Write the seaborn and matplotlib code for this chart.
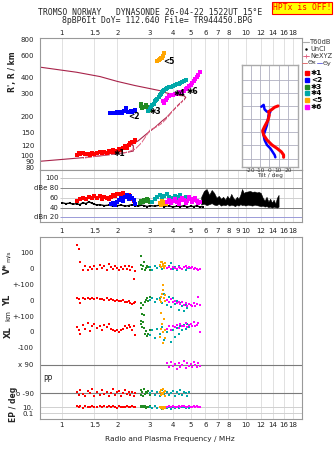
import numpy as np
import matplotlib
matplotlib.use("Agg")
import matplotlib.pyplot as plt
from matplotlib.lines import Line2D
from matplotlib.ticker import NullLocator
import seaborn as sns

# ---------------- data ----------------
freq_ticks = [1, 1.5, 2, 3, 4, 5, 6, 7, 8, 10, 12, 14, 16, 18]
freq_labels = ["1", "1.5", "2", "3", "4", "5", "6", "7", "8", "10", "12", "14", "16", "18"]
freq_ticks_mid = [1, 1.5, 2, 3, 4, 5, 6, 7, 8, 9, 10, 12, 14, 16, 18]
freq_labels_mid = ["1", "1.5", "2", "3", "4", "5", "6", "7", "8", "9", "10", "12", "14", "16", "18"]
height_ticks = [80, 90, 100, 120, 150, 200, 300, 400, 600, 800]

# virtual heights of echo traces (MHz, km)
red_f = [1.20,1.23,1.26,1.30,1.34,1.38,1.42,1.46,1.50,1.55,1.60,1.65,1.70,1.75,1.80,1.85,1.90,1.95,2.00,2.05,2.10,2.15,2.20,2.25,2.30,2.35,2.40,2.45,2.49]
red_h = [101,104,103,105,102,103,101,104,103,105,106,104,107,105,109,107,110,106,109,112,110,115,118,114,120,124,128,126,131]
blue_f = [1.82,1.86,1.90,1.95,2.00,2.04,2.08,2.12,2.16,2.20,2.24,2.28,2.32,2.36,2.40,2.45,2.49]
blue_h = [212,214,215,213,216,214,218,215,220,222,235,218,216,220,218,222,224]
green_f = [2.68,2.70,2.72,2.75,2.85,2.90,2.95,3.00]
green_h = [240,250,235,238,245,238,230,226]
cyan_f = [2.95,3.00,3.05,3.10,3.15,3.20,3.25,3.30,3.35,3.40,3.45,3.50,3.55,3.60,3.65,3.70,3.80,3.90,4.00,4.10,4.20,4.30,4.40,4.50,4.60,4.70]
cyan_h = [220,230,238,245,252,262,270,275,285,292,300,308,318,322,330,335,340,338,345,350,358,355,365,372,380,385]
orange_f = [3.30,3.35,3.40,3.45,3.50,3.55,3.60]
orange_h = [540,548,555,565,575,590,620]
mag_f = [3.55,3.60,3.65,3.70,3.80,3.90,4.00,4.10,4.20,4.30,4.40,4.50,4.60,4.70,4.80,4.90,5.00,5.10,5.20,5.30,5.40,5.50,5.60]
mag_h = [262,255,270,280,288,292,296,300,302,305,310,312,318,325,335,345,352,365,375,390,405,420,440]

# true-height / plasma frequency profile
prof_f = [0.76,1.0,1.3,1.6,2.0,2.2,2.44,2.44,2.38,2.6,2.9,3.2,3.5,3.71,4.0,4.3,4.6,4.7,4.6,4.3,4.0,3.7,3.4,3.0,2.5,2.0,1.61,1.2,0.76]
prof_h = [90,93,96,99,103,105,108,119,121,130,148,165,185,198,222,248,270,282,290,292,298,305,318,330,348,375,409,442,484]
ne_f = [1.31,1.45,1.82,2.25,2.5,2.7,2.85,3.0,3.27,3.48,3.71,3.95,4.17,4.38,4.56]
ne_h = [95,97.5,102,105.5,112,125,140,157,167,177,194,218,236,251,269]

# trace labels
lab_text = ["\u27311", "<2", "\u27313", "\u27314", "<5", "\u27316"]
lab_f = [1.90, 2.29, 3.00, 4.03, 3.55, 4.76]
lab_h = [104, 202, 218, 300, 535, 313]

# tilt inset (deg, km)
tx_tilt = [9.4,5.7,2.9,-0.8,0,-1.4,-5.1,-7.2,-6.1,-2.5,2.9,8.3,12.9,15.4,15.4]
tx_h = [301,296,288,279,266,247,222,206,190,171,152,139,126,114,105]
ty_tilt = [-8.6,-6.1,-5.1,-2.5,1.1,-0.8,-1.4,-2.5,-4.3,-6.1,-5.1,-2.5,1.1,3.5,5.7,6.5]
ty_h = [298,305,288,279,279,266,250,228,209,190,171,152,139,126,114,105]

# amplitudes (dB)
unc_f = [1.0,1.05,1.1,1.15,1.2,1.25,1.3,1.35,1.4,1.45,1.5,1.55,1.6,1.7,1.8,1.9,2.0,2.1,2.2,2.3,2.4,2.5,2.6,2.7,2.8,2.9,3.0,3.2,3.4,3.6,3.8,4.0,4.2,4.4,4.6,4.8,5.0,5.2,5.4,5.6,5.8]
unc_db = [50,48,49,47,48,46,50,48,52,49,47,45,46,44,45,43,44,45,43,44,46,44,43,45,44,42,44,43,45,42,44,41,43,42,44,41,43,42,44,41,42]
band_f = [5.7,5.9,6.1,6.3,6.5,6.7,6.9,7.1,7.3,7.5,7.7,7.9,8.1,8.3,8.5,8.7,8.9,9.1,9.3,9.5,9.7,9.9,10.2,10.5,10.8,11.1,11.4,11.7,12.0,12.3,12.6,12.9,13.2,13.5,13.8,14.1,14.4,14.7,15.0]
band_hi = [62,74,78,66,76,70,60,64,58,62,56,64,58,68,60,56,62,58,66,78,70,72,73,74,72,73,71,72,70,60,54,62,52,58,50,56,48,60,66]
band_lo = [46,48,45,47,49,46,45,48,44,46,45,47,44,46,45,43,46,44,47,45,46,44,46,45,44,46,45,44,43,44,42,43,41,42,40,42,41,40,42]
red_db_f = [1.20,1.25,1.30,1.35,1.40,1.45,1.50,1.55,1.60,1.65,1.70,1.75,1.80,1.85,1.90,1.95,2.00,2.05,2.10,2.15,2.20,2.25,2.30,2.35,2.40,2.45]
red_db = [54,58,60,57,62,59,63,60,64,58,62,60,57,62,65,63,67,68,66,69,64,62,66,60,57,53]
blue_db_f = [1.85,1.90,1.95,2.00,2.05,2.10,2.15,2.20,2.25,2.30,2.35,2.40,2.45,2.50]
blue_db = [47,50,46,52,56,60,54,62,66,58,64,60,55,48]
green_db_f = [2.65,2.70,2.75,2.80,2.85,2.90,2.95,3.00]
green_db = [50,54,52,56,53,58,55,52]
cyan_db_f = [3.10,3.20,3.30,3.40,3.50,3.60,3.70,3.80,3.90,4.00,4.10,4.20,4.30,4.40,4.50,4.60,4.70,4.80]
cyan_db = [52,58,62,66,60,64,68,62,56,60,64,58,62,66,60,56,62,58]
orange_db_f = [3.40,3.45,3.50,3.55,3.60,3.65]
orange_db = [50,46,54,48,52,47]
mag_db_f = [3.70,3.80,3.90,4.00,4.10,4.20,4.30,4.40,4.50,4.60,4.70,4.80,4.90,5.00,5.10,5.20,5.30,5.40,5.50,5.60]
mag_db = [52,56,50,54,58,52,48,55,60,56,50,54,62,58,52,56,60,54,50,52]

# lower panel: V* (m/s), YL, XL (km), PP (deg), EP (deg)
rl_f = [1.20,1.23,1.26,1.30,1.34,1.38,1.42,1.46,1.50,1.55,1.60,1.65,1.70,1.75,1.80,1.85,1.90,1.95,2.00,2.05,2.10,2.15,2.20,2.25,2.30,2.35,2.40,2.45,2.50]
rl_v = [145,120,40,-10,15,-15,5,-5,10,-8,20,0,15,-10,25,5,-5,12,0,-15,8,-6,10,-4,12,-12,5,-70,-20]
rl_yl = [12,5,-20,10,8,15,5,10,8,12,5,8,0,10,-2,5,0,-5,2,-8,-4,0,-10,-15,-5,-20,-25,-18,-10]
rl_xl = [30,10,-10,45,20,55,5,35,50,25,40,15,45,30,50,20,10,5,15,0,10,20,35,25,45,30,15,35,-20]
rl_pp = [-80,-100,-70,-95,-110,-75,-90,-60,-105,-85,-100,-70,-95,-80,-110,-90,-65,-100,-85,-75,-105,-90,-70,-95,-80,-100,-85,-110,-90]
rl_ep = [20,12,30,8,25,15,10,35,18,12,22,9,28,14,20,11,25,16,8,30,13,19,10,24,15,12,28,18,10]
gl_f = [2.68,2.70,2.72,2.75,2.78,2.82,2.86,2.90,2.95,3.00]
gl_v = [75,20,-5,10,40,-10,0,15,5,-10]
gl_yl = [-20,-50,-85,-30,-94,-10,0,15,-5,20]
gl_xl = [70,50,30,60,25,-10,5,-25,-15,10]
gl_pp = [-70,-100,-85,-110,-60,-95,-80,-90,-75,-100]
gl_ep = [15,25,10,30,12,20,8,18,14,22]
cl_f = [3.00,3.10,3.20,3.30,3.40,3.50,3.60,3.70,3.80,3.90,4.00,4.10,4.20,4.30,4.40,4.50,4.60,4.70,4.80,4.90]
cl_v = [5,-10,10,0,15,-5,8,0,12,30,-8,5,-10,10,0,-5,8,-12,2,0]
cl_yl = [0,10,-10,5,15,-20,40,-30,20,-45,10,-25,-5,-60,-20,-40,-70,-30,-50,-25]
cl_xl = [-20,10,-40,20,-10,30,-50,0,40,-60,15,-30,25,-15,35,10,45,20,50,30]
cl_pp = [-90,-75,-100,-85,-110,-70,-95,-80,-100,-90,-75,-105,-85,-95,-70,-100,-80,-90,-105,-85]
cl_ep = [10,5,20,8,15,4,12,6,18,3,10,7,14,5,12,9,16,6,11,8]
ol_f = [3.40,3.43,3.46,3.49,3.52,3.55,3.58,3.61,3.64]
ol_v = [20,35,5,40,10,25,0,30,15]
ol_yl = [0,20,-10,40,94,60,10,30,-5]
ol_xl = [-30,20,117,50,-67,0,80,-40,10]
ol_pp = [-85,-70,-100,-90,-60,-95,-80,-110,-75]
ol_ep = [12,6,18,9,4,15,7,10,5]
ml_f = [3.70,3.80,3.90,4.00,4.10,4.20,4.30,4.40,4.50,4.60,4.70,4.80,4.90,5.00,5.10,5.20,5.30,5.40,5.50,5.60]
ml_v = [0,5,-3,8,2,-5,6,0,-8,4,10,-2,5,0,8,-6,2,-4,-10,-5]
ml_yl = [0,-10,5,-15,-5,-20,-10,-25,-15,-30,-20,-35,-25,-30,-40,-20,-35,-25,20,-30]
ml_xl = [20,35,10,40,30,45,25,50,35,40,55,30,45,50,35,60,40,45,55,0]
ml_pp = [100,75,110,85,95,65,105,80,90,115,70,100,85,95,75,110,90,80,100,85]
ml_ep = [15,22,10,28,18,12,25,14,20,30,16,11,24,19,13,27,17,21,15,12]

# ---------------- style ----------------
sns.set_theme(style="white")
plt.rcParams['font.family'] = ['DejaVu Sans']

RED, BLUE, GREEN, CYAN, ORANGE, MAG = '#ff0000', '#0000ff', '#228b22', '#00a8a8', '#ffa500', '#ff00ff'
GRID = '#dcdcdc'
SPINE = '#999999'

W, H = 335, 451
fig = plt.figure(figsize=(W / 100, H / 100), dpi=100)
fig.patch.set_facecolor('white')


def fx(px):
    return px / W


def fy(py):
    return 1 - py / H


def axes_px(x0, y0, x1, y1):
    return fig.add_axes([fx(x0), fy(y1), (x1 - x0) / W, (y1 - y0) / H])


ax_top = axes_px(40, 38, 302, 170)
ax_db = axes_px(40, 170, 302, 222)
ax_lo = axes_px(40, 237, 302, 419)

for ax in (ax_top, ax_db, ax_lo):
    ax.set_facecolor('white')
    ax.set_xscale('log')
    ax.set_xlim(0.76, 20.1)
    ax.xaxis.set_minor_locator(NullLocator())
    for s in ax.spines.values():
        s.set_color(SPINE)
        s.set_linewidth(0.8)
    ax.set_axisbelow(True)
    ax.tick_params(axis='both', which='major', labelsize=5, length=3, width=0.5,
                   color='#777777', pad=1.2, labelcolor='#222222')

# vertical grid lines
for ax in (ax_top, ax_db, ax_lo):
    ax.vlines(freq_ticks_mid if ax is ax_db else freq_ticks, 0, 1, transform=ax.get_xaxis_transform(),
              color=GRID, lw=0.6, zorder=0)


def sq(ax, x, y, c, s=3.5, z=3):
    sns.scatterplot(x=x, y=y, ax=ax, color=c, marker='s', s=s, linewidth=0, legend=False, zorder=z)


# ---------------- top panel ----------------
ax = ax_top
ax.set_yscale('log')
ax.set_ylim(77, 815)
ax.yaxis.set_minor_locator(NullLocator())
ax.set_yticks(height_ticks)
ax.set_yticklabels([str(v) for v in height_ticks])
ax.set_xticks(freq_ticks)
ax.set_xticklabels(freq_labels)
ax.xaxis.tick_top()
ax.tick_params(axis='x', length=0, pad=1.6)

sns.lineplot(x=prof_f, y=prof_h, ax=ax, sort=False, estimator=None, color='#a8234a', lw=0.8, zorder=2)
sns.lineplot(x=ne_f, y=ne_h, ax=ax, sort=False, estimator=None, color='#e06080', lw=0.7,
             marker='|', markersize=3, markeredgewidth=0.7, zorder=2)
for xs, ys, c in [(red_f, red_h, RED), (blue_f, blue_h, BLUE), (green_f, green_h, GREEN),
                  (cyan_f, cyan_h, CYAN), (orange_f, orange_h, ORANGE), (mag_f, mag_h, MAG)]:
    sq(ax, xs, ys, c, s=6)
for t, xv, yv in zip(lab_text, lab_f, lab_h):
    ax.text(xv, yv, t, fontsize=5.5, fontweight='bold', color='black', ha='left', va='center', zorder=5)
ax.set_xlabel('')
ax.set_ylabel('')

# ---------------- dB panel ----------------
ax = ax_db
ax.set_ylim(10.4, 117)
ax.set_yticks([])
ax.set_xticks(freq_ticks_mid)
ax.set_xticklabels(freq_labels_mid)
ax.tick_params(axis='x', length=0, pad=4.2)
db_lines = [(100, '#c4c4c4'), (80, '#8a8a8a'), (60, '#cfcfcf'), (40, '#7a7a7a'), (20, '#9a9ad8')]
for v, c in db_lines:
    ax.hlines(v, 0.975, 20.1, color=c, lw=0.7, zorder=1)
for v, t in [(100, '100'), (80, 'dBe 80'), (60, '60'), (40, '40'), (20, 'dBn 20')]:
    ax.text(0.955, v, t, fontsize=5, ha='right', va='center', color='#222222', zorder=4)
ax.fill_between(band_f, band_lo, band_hi, color='black', lw=0.4, zorder=2)
sns.lineplot(x=unc_f, y=unc_db, ax=ax, sort=False, estimator=None, color='black', lw=1.0, zorder=2)
sq(ax, unc_f, unc_db, 'black', s=4, z=2)
for xs, ys, c in [(red_db_f, red_db, RED), (blue_db_f, blue_db, BLUE), (green_db_f, green_db, GREEN),
                  (cyan_db_f, cyan_db, CYAN), (orange_db_f, orange_db, ORANGE), (mag_db_f, mag_db, MAG)]:
    sq(ax, xs, ys, c, s=6)
ax.set_xlabel('')
ax.set_ylabel('')

# ---------------- lower panel ----------------
ax = ax_lo
ax.set_ylim(-544, 594)
ax.set_xticks(freq_ticks)
ax.set_xticklabels(freq_labels)
ax.tick_params(axis='x', length=0, pad=2.2)
PP_X, PP_O = -206, -383
EP_10, EP_01 = -471, -508
lo_ticks = [500, 400, 300, 200, 100, 0, -100, PP_X, PP_O, EP_10, EP_01]
lo_labels = ['100', '0', '+-100', '0', '+-100', '0', '-100', 'x 90', 'o -90', '10.', '0.1']
ax.set_yticks(lo_ticks)
ax.set_yticklabels(lo_labels)
ax.tick_params(axis='y', length=3, pad=1.5)
ax.hlines([PP_X, PP_O], 0.76, 20.1, color='#7a7a7a', lw=0.8, zorder=1)
ax.hlines([EP_10, EP_01], 0.76, 20.1, color='#d0d0d0', lw=0.7, zorder=1)
ax.text(0.79, -295, 'PP', fontsize=5.5, ha='left', va='center', color='#222222')


def pp_y(vals):
    return [(PP_X + PP_O) / 2 + v * (PP_X - PP_O) / 180 for v in vals]


def ep_y(vals):
    return [EP_01 + (np.log10(v) + 1) * (EP_10 - EP_01) / 2 for v in vals]


for f, v, yl, xl, pp, ep, c in [(rl_f, rl_v, rl_yl, rl_xl, rl_pp, rl_ep, RED),
                                (gl_f, gl_v, gl_yl, gl_xl, gl_pp, gl_ep, GREEN),
                                (cl_f, cl_v, cl_yl, cl_xl, cl_pp, cl_ep, CYAN),
                                (ol_f, ol_v, ol_yl, ol_xl, ol_pp, ol_ep, ORANGE),
                                (ml_f, ml_v, ml_yl, ml_xl, ml_pp, ml_ep, MAG)]:
    sq(ax, f, [a + 400 for a in v], c)
    sq(ax, f, [a + 200 for a in yl], c)
    sq(ax, f, xl, c)
    sq(ax, f, pp_y(pp), c)
    sq(ax, f, ep_y(ep), c)
ax.set_xlabel('')
ax.set_ylabel('')

# ---------------- tilt inset ----------------
ax_in = axes_px(242, 65, 298, 167)
ax_in.set_facecolor('white')
ax_in.set_xlim(-29.4, 30.9)
ax_in.set_ylim(67.9, 457.3)
for s in ax_in.spines.values():
    s.set_color('#aaaaaa')
    s.set_linewidth(1.0)
ax_in.vlines([-20, -10, 0, 10, 20], 0, 1, transform=ax_in.get_xaxis_transform(), color='#b0b0c0', lw=0.6, zorder=0)
ax_in.hlines([100, 150, 200, 250, 300, 350, 400], -29.4, 30.9, color='#b0b0c0', lw=0.6, zorder=0)
sns.lineplot(x=ty_tilt, y=ty_h, ax=ax_in, sort=False, estimator=None, color=BLUE, lw=1.8, zorder=3)
sns.lineplot(x=tx_tilt, y=tx_h, ax=ax_in, sort=False, estimator=None, color=RED, lw=2.2, zorder=3)
ax_in.set_xticks([-20, -10, 0, 10, 20])
ax_in.set_xticklabels(['-20', '-10', '0', '10', '20'])
ax_in.set_yticks([])
ax_in.tick_params(axis='x', length=0, pad=0.8, labelsize=4.2, labelcolor='#333333')
ax_in.set_xlabel('Tilt / deg', fontsize=4.2, labelpad=0, color='#333333')
ax_in.set_ylabel('')

# ---------------- figure texts ----------------
mono = 'DejaVu Sans Mono'
fig.text(fx(150), fy(12.5), 'TROMSO NORWAY   DYNASONDE 26-04-22 1522UT 15\u00b0E', fontsize=5.9,
         family=mono, ha='center', va='center')
fig.text(fx(157.5), fy(20.3), '8pBP6It DoY= 112.640 File= TR944450.BPG', fontsize=5.9,
         family=mono, ha='center', va='center')
fig.text(fx(302), fy(8), 'HPTx is OFF!', fontsize=5.8, family=mono, color='red', ha='center', va='center',
         bbox=dict(boxstyle='square,pad=0.15', fc='yellow', ec='red', lw=0.8))

fig.text(fx(13), fy(72), "R', R / km", rotation=90, fontsize=5.5, fontweight='bold', ha='center', va='center')
fig.text(fx(7.5), fy(269), 'V*', rotation=90, fontsize=6, fontweight='bold', ha='center', va='center')
fig.text(fx(8.5), fy(256), 'm/s', rotation=90, fontsize=4.5, ha='center', va='center')
fig.text(fx(8), fy(300), 'YL', rotation=90, fontsize=6, fontweight='bold', ha='center', va='center')
fig.text(fx(8), fy(316), 'km', rotation=90, fontsize=5, ha='center', va='center')
fig.text(fx(8), fy(332), 'XL', rotation=90, fontsize=6, fontweight='bold', ha='center', va='center')
fig.text(fx(13), fy(404), 'EP / deg', rotation=90, fontsize=5.5, fontweight='bold', ha='center', va='center')
fig.text(fx(170), fy(439), 'Radio and Plasma Frequency / MHz', fontsize=5.3, ha='center', va='center', color='#222222')

# legend (right side)
leg_rows = [(42, 'T60dB'), (49, 'UnCl'), (56, 'NeXYZ')]
fig.add_artist(Line2D([fx(303), fx(309)], [fy(42), fy(42)], color='#aaaaaa', lw=0.8))
fig.add_artist(Line2D([fx(306)], [fy(49)], color='black', marker='.', markersize=1.5, lw=0))
fig.add_artist(Line2D([fx(303), fx(309)], [fy(56), fy(56)], color='#e06080', lw=0.6))
fig.add_artist(Line2D([fx(306)], [fy(56)], color='#e06080', marker='+', markersize=3, lw=0, markeredgewidth=0.6))
for yy, t in leg_rows:
    fig.text(fx(310), fy(yy), t, fontsize=4.8, va='center', ha='left', color='#333333')
fig.add_artist(Line2D([fx(302), fx(307)], [fy(63), fy(63)], color='#e07070', lw=0.7))
fig.text(fx(307.5), fy(63), '\u0398x', fontsize=4.6, va='center', ha='left', color='#333333')
fig.add_artist(Line2D([fx(317), fx(322)], [fy(63), fy(63)], color='#7070e0', lw=0.7))
fig.text(fx(322.5), fy(63), '\u0398y', fontsize=4.6, va='center', ha='left', color='#333333')
for yy, c, t in zip([73.3, 80, 86.7, 93.3, 100, 106.7], [RED, BLUE, GREEN, CYAN, ORANGE, MAG], lab_text):
    fig.add_artist(Line2D([fx(306.7)], [fy(yy)], color=c, marker='s', markersize=2.2, lw=0))
    fig.text(fx(311), fy(yy), t, fontsize=5.3, fontweight='bold', va='center', ha='left', color='black')

fig.savefig('out.png', dpi=100, facecolor='white')
